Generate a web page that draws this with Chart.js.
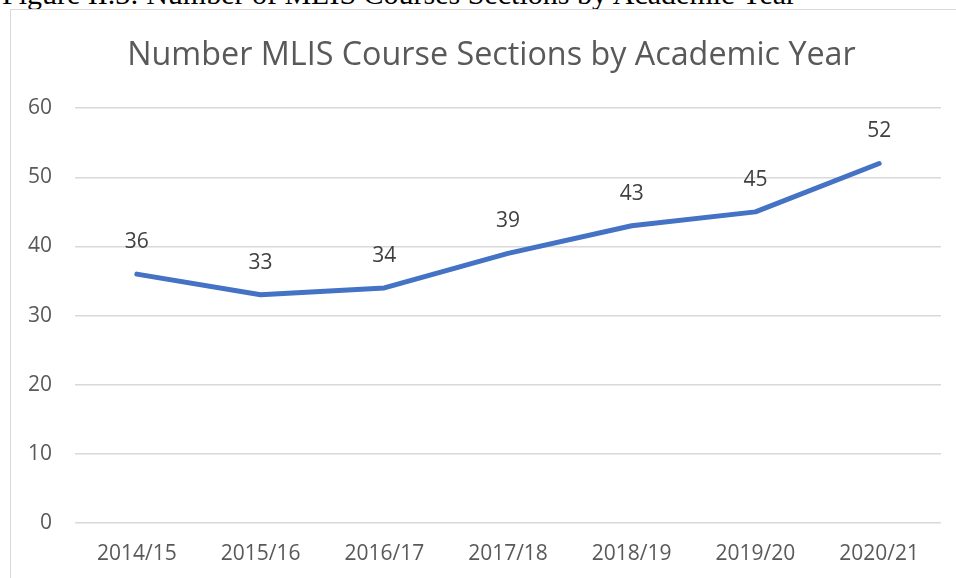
<!DOCTYPE html>
<html>
<head>
<meta charset="utf-8">
<script src="https://cdn.jsdelivr.net/npm/chart.js@4"></script>
<style>
    body { margin: 0; width: 956px; height: 578px; overflow: hidden; background: #fff; position: relative; }
    #caption {
        position: absolute; left: 2px; top: -21px;
        font-family: "Liberation Serif", serif; font-size: 30px; line-height: 30px;
        color: #000; white-space: nowrap;
    }
    #frame {
        position: absolute; left: 10px; top: 9px; width: 960px; height: 600px;
        border-left: 1.5px solid #d9d9d9; border-top: 1.5px solid #d9d9d9;
    }
    #wrap { position: absolute; left: 0; top: 0; width: 956px; height: 578px; }
</style>
</head>
<body>
<div id="caption">Figure II.3: Number of MLIS Courses Sections by Academic Year</div>
<div id="frame"></div>
<div id="wrap"><canvas id="chart"></canvas></div>
<script>
const years = ['2014/15', '2015/16', '2016/17', '2017/18', '2018/19', '2019/20', '2020/21'];
const sections = [36, 33, 34, 39, 43, 45, 52];
const yTicks = [0, 10, 20, 30, 40, 50, 60];

const FONT = '"Open Sans", "Noto Sans", sans-serif';

// Draw value labels above each point
const valueLabels = {
    id: 'valueLabels',
    afterDatasetsDraw(chart) {
        const ctx = chart.ctx;
        const meta = chart.getDatasetMeta(0);
        ctx.save();
        ctx.font = '21px ' + FONT;
        ctx.fillStyle = '#404040';
        ctx.textAlign = 'center';
        ctx.textBaseline = 'middle';
        meta.data.forEach((pt, i) => {
            ctx.fillText(String(sections[i]), pt.x, pt.y - 32);
        });
        ctx.restore();
    },
};

new Chart(document.getElementById('chart'), {
    type: 'line',
    data: {
        labels: years,
        datasets: [{
            data: sections,
            borderColor: '#4472C4',
            borderWidth: 5,
            borderCapStyle: 'round',
            borderJoinStyle: 'round',
            pointRadius: 0,
            tension: 0,
            fill: false,
        }],
    },
    options: {
        responsive: true,
        maintainAspectRatio: false,
        animation: false,
        // left padding shifts the title centre; y axis width makes up the rest
        layout: { padding: { left: 42, right: 15, top: 10, bottom: 0 } },
        plugins: {
            legend: { display: false },
            tooltip: { enabled: false },
            title: {
                display: true,
                text: 'Number MLIS Course Sections by Academic Year',
                color: '#595959',
                font: { family: FONT, size: 32.3, weight: 'normal' },
                padding: { top: 26, bottom: 33.4 },
            },
        },
        scales: {
            x: {
                offset: true,
                grid: { display: false, drawTicks: false },
                border: { display: false },
                ticks: { color: '#595959', font: { family: FONT, size: 21 }, padding: 18, maxRotation: 0 },
                afterFit(scale) { scale.height = 55; },
            },
            y: {
                min: 0,
                max: 60,
                afterBuildTicks(scale) { scale.ticks = yTicks.map(v => ({ value: v })); },
                grid: { color: '#d9d9d9', lineWidth: 1.5, drawTicks: false },
                border: { display: false },
                // mirrored + far aligned so labels can sit left of the narrow axis box unclipped
                ticks: { color: '#595959', font: { family: FONT, size: 21 }, mirror: true, crossAlign: 'far', padding: -47 },
                afterFit(scale) { scale.width = 33; },
            },
        },
    },
    plugins: [valueLabels],
});
</script>
</body>
</html>
